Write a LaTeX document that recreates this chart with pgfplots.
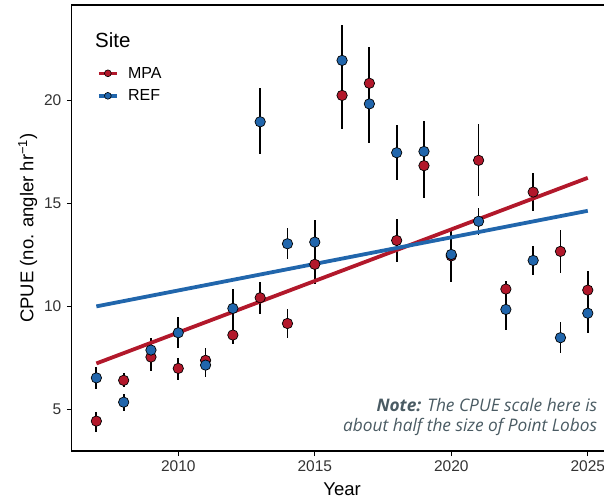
\documentclass[border=0pt]{standalone}
\usepackage{pgfplots}
\usepackage{pgfplotstable}
\pgfplotsset{compat=1.18}
\usepackage{fontspec}
\setmainfont{Liberation Sans}
\newfontfamily\notefont{Open Sans}
\definecolor{mpa}{HTML}{B2182B}
\definecolor{ref}{HTML}{2166AC}
\definecolor{notegray}{HTML}{4A5B63}

\pgfplotstableread{
year y lo hi
2007 4.43 3.91 4.88
2008 6.41 6.10 6.78
2009 7.54 6.87 8.20
2010 6.99 6.42 7.50
2011 7.38 6.58 7.96
2012 8.61 8.16 9.10
2013 10.42 9.63 11.16
2014 9.17 8.45 9.87
2015 12.04 11.07 13.00
2016 20.24 18.59 21.90
2017 20.83 19.00 22.60
2018 13.20 12.17 14.24
2019 16.83 15.26 18.40
2020 12.45 11.17 13.70
2021 17.09 15.35 18.83
2022 10.84 10.30 11.23
2023 15.55 14.63 16.46
2024 12.67 11.63 13.70
2025 10.79 9.90 11.71
}\mpadata

\pgfplotstableread{
year y lo hi
2007 6.53 6.00 7.04
2008 5.35 4.92 5.73
2009 7.88 7.40 8.46
2010 8.72 7.98 9.50
2011 7.15 6.58 7.70
2012 9.90 9.00 10.83
2013 18.96 17.38 20.58
2014 13.04 12.30 13.79
2015 13.12 12.10 14.17
2016 21.94 20.30 23.64
2017 19.83 17.91 21.70
2018 17.46 16.13 18.79
2019 17.52 16.00 18.98
2020 12.52 11.50 13.70
2021 14.13 13.46 14.77
2022 9.85 8.85 10.40
2023 12.23 11.52 12.93
2024 8.48 7.72 9.25
2025 9.67 8.72 10.50
}\refdata

\begin{document}
\begin{tikzpicture}
\begin{axis}[
  at={(0,0)}, anchor=south west,
  scale only axis,
  width=540.54pt, height=446pt,
  xmin=2006.1, xmax=2025.9,
  ymin=2.98, ymax=24.63,
  axis lines=box,
  axis line style={line width=1.3pt, black},
  xtick={2010,2015,2020,2025},
  ytick={5,10,15,20},
  xtick pos=bottom, ytick pos=left,
  tick align=outside,
  major tick length=5pt,
  tick style={line width=1pt, black},
  /pgf/number format/assume math mode=true,
  /pgf/number format/1000 sep={},
  ticklabel style={font=\fontsize{15.5}{18}\selectfont, text=black!80},
  yticklabel style={xshift=-2pt},
  xticklabel style={yshift=-1pt},
  every axis y label/.style={at={(axis description cs:-0.0712,0.5)}, rotate=90, anchor=base},
  every axis x label/.style={at={(axis description cs:0.5,-0.0987)}, anchor=base},
  ylabel={CPUE (no. angler hr\textsuperscript{−1})},
  xlabel={Year},
  label style={font=\fontsize{18.5}{22}\selectfont},
  legend style={at={(axis cs:2007.02,21.7)}, anchor=north west, draw=none, fill=none,
    font=\fontsize{16}{19}\selectfont, inner sep=0pt, row sep=7pt,
    nodes={inner sep=1.5pt},
    /tikz/every odd column/.append style={column sep=8pt}},
  legend cell align=left,
  clip=false,
]
% points
\addplot[only marks, mark=*, mark size=5.2pt, mark options={fill=mpa, draw=black, line width=0.7pt}, forget plot] table[x=year, y=y] {\mpadata};
\addplot[only marks, mark=*, mark size=5.2pt, mark options={fill=ref, draw=black, line width=0.7pt}, forget plot] table[x=year, y=y] {\refdata};
% error bars
\addplot[draw=none, mark=none, forget plot,
  error bars/.cd, y dir=both, y explicit, error mark=none,
  error bar style={line width=1.8pt, black}]
  table[x=year, y=y, y error plus expr=\thisrow{hi}-\thisrow{y}, y error minus expr=\thisrow{y}-\thisrow{lo}] {\mpadata};
\addplot[draw=none, mark=none, forget plot,
  error bars/.cd, y dir=both, y explicit, error mark=none,
  error bar style={line width=1.8pt, black}]
  table[x=year, y=y, y error plus expr=\thisrow{hi}-\thisrow{y}, y error minus expr=\thisrow{y}-\thisrow{lo}] {\refdata};
% regression lines
\addplot[mpa, line width=3.8pt, forget plot] coordinates {(2007,7.23) (2025,16.24)};
\addplot[ref, line width=3.8pt, forget plot] coordinates {(2007,10.00) (2025,14.64)};
% legend
\addlegendimage{legend image code/.code={\draw[mpa, line width=3.5pt] (0pt,0pt) -- (18pt,0pt); \draw[fill=mpa, draw=black, line width=0.6pt] (9pt,0pt) circle (3.4pt);}}
\addlegendentry{MPA}
\addlegendimage{legend image code/.code={\draw[ref, line width=3.5pt] (0pt,0pt) -- (18pt,0pt); \draw[fill=ref, draw=black, line width=0.6pt] (9pt,0pt) circle (3.4pt);}}
\addlegendentry{REF}
\node[anchor=west, font=\fontsize{20.5}{24}\selectfont, inner sep=0pt] at (axis cs:2006.95,22.93) {Site};
\node[anchor=east, align=right, inner sep=0pt, text=notegray, font=\notefont\itshape\fontsize{17.3}{20.6}\selectfont] at (axis cs:2025.35,4.63) {\textbf{Note:} The CPUE scale here is\\about half the size of Point Lobos};
\end{axis}
\pgfresetboundingbox
\useasboundingbox (-71.8pt,-47pt) rectangle (532.2pt,451pt);
\end{tikzpicture}
\end{document}
